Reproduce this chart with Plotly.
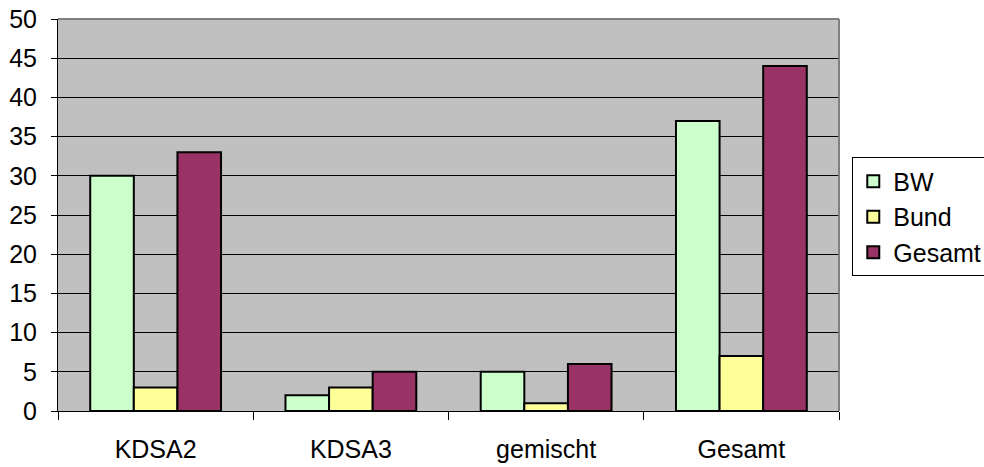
import plotly.graph_objects as go

categories = ["KDSA2", "KDSA3", "gemischt", "Gesamt"]
bw = [30, 2, 5, 37]
bund = [3, 3, 1, 7]
gesamt = [33, 5, 6, 44]
series_names = ["BW", "Bund", "Gesamt"]
series_colors = ["#CCFFCC", "#FFFF99", "#993366"]
y_ticks = list(range(0, 51, 5))

FONT = dict(family="Liberation Sans, Arial, sans-serif", size=25, color="black")

fig = go.Figure()
for i, (name, vals, col) in enumerate(zip(series_names, [bw, bund, gesamt], series_colors)):
    fig.add_trace(go.Bar(
        x=categories, y=vals, name=name, legendgroup=name,
        marker=dict(color=col, line=dict(color="black", width=2)),
    ))

fig.update_layout(
    width=984, height=467,
    margin=dict(l=58, r=145, t=19, b=56, autoexpand=False),
    paper_bgcolor="white", plot_bgcolor="#C0C0C0",
    barmode="group", bargap=0.33, bargroupgap=0,
    font=FONT,
    showlegend=True,
    legend=dict(
        x=1.017, y=0.647, xanchor="left", yanchor="top",
        bordercolor="black", borderwidth=1, bgcolor="white",
        font=FONT, traceorder="grouped", tracegroupgap=0,
        itemwidth=30,
    ),
    xaxis=dict(
        showline=True, linecolor="black", linewidth=1,
        ticks="outside", tickson="boundaries", ticklen=8, tickcolor="black",
        showgrid=False, ticklabelstandoff=16,
    ),
    yaxis=dict(
        range=[0, 50], tickvals=y_ticks,
        showline=True, linecolor="black", linewidth=1,
        ticks="outside", ticklen=6, tickcolor="black",
        showgrid=True, gridcolor="black", gridwidth=1,
        zeroline=False, ticklabelstandoff=9,
    ),
)

fig.add_shape(type="line", xref="paper", yref="paper", x0=0, x1=1, y0=1, y1=1,
              line=dict(color="#808080", width=2))
fig.add_shape(type="line", xref="paper", yref="paper", x0=1, x1=1, y0=0, y1=1,
              line=dict(color="#808080", width=2))

fig.write_html("out.html")
